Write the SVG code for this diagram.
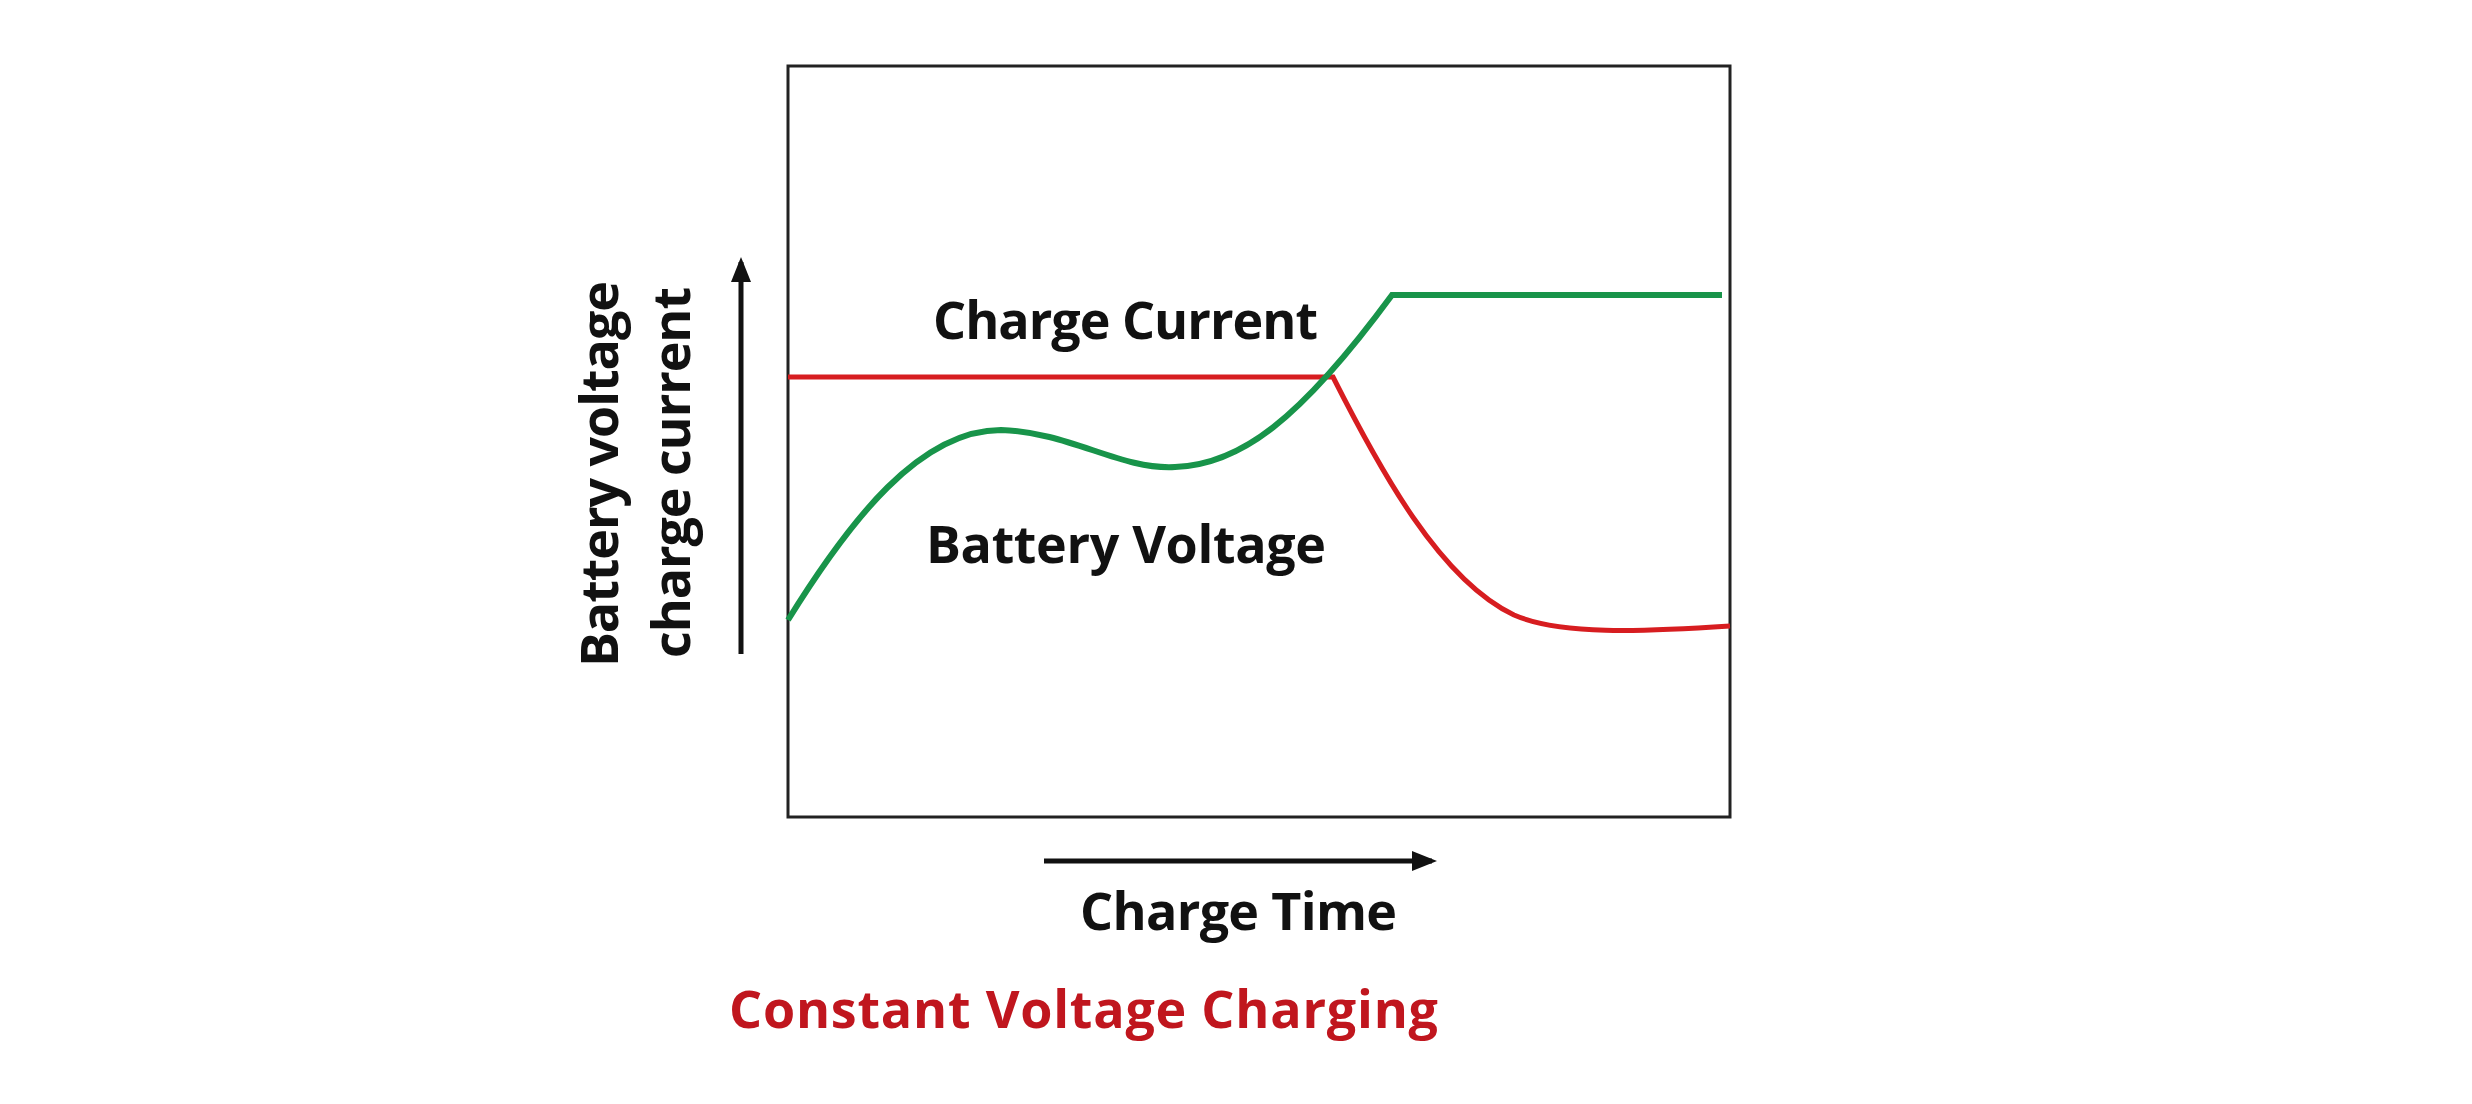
<svg xmlns="http://www.w3.org/2000/svg" width="2472" height="1104" viewBox="0 0 2472 1104">
<defs>
<style>
.t{font-family:"Open Sans","Liberation Sans",sans-serif;font-weight:700;font-size:52px;fill:#111}
.ax{stroke:#111;stroke-width:5;fill:none}
</style>
<marker id="ah" viewBox="0 0 10 10" refX="8" refY="5" markerWidth="5" markerHeight="5" orient="auto" markerUnits="strokeWidth"><path d="M0,1 L10,5 L0,9 z" fill="#111"/></marker>
</defs>
<rect width="2472" height="1104" fill="#fff"/>
<g id="frame"><rect x="788" y="66" width="942" height="751" fill="none" stroke="#222" stroke-width="3"/></g>
<g id="connectors">
<line class="ax" x1="741" y1="654" x2="741" y2="262" marker-end="url(#ah)"/>
<line class="ax" x1="1044" y1="861" x2="1432" y2="861" marker-end="url(#ah)"/>
</g>
<g id="current"><path d="M788,377 L1333,377 C1380,470 1440,580 1514,615 C1560,635 1640,632 1730,626" fill="none" stroke="#d71d20" stroke-width="5"/></g>
<g id="voltage"><path d="M788,620 C850,520 920,430 1001,430 C1070,432 1120,470 1175,467 C1240,465 1300,420 1392,295 L1722,295" fill="none" stroke="#18944a" stroke-width="6"/></g>
<g id="labels">
<text class="t" x="933" y="339" textLength="385">Charge Current</text>
<text class="t" x="926" y="563" textLength="400">Battery Voltage</text>
<text class="t" x="1080" y="930" textLength="317">Charge Time</text>
<text class="t" transform="translate(618,667) rotate(-90)" textLength="386">Battery voltage</text>
<text class="t" transform="translate(690,658) rotate(-90)" textLength="371">charge current</text>
<text class="t" x="729" y="1028" textLength="709" style="fill:#c0161e">Constant Voltage Charging</text>
</g>
</svg>
